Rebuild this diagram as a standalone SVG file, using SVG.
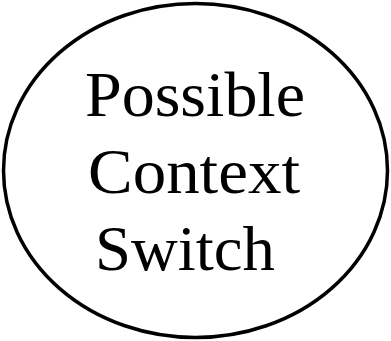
<svg xmlns="http://www.w3.org/2000/svg" width="391" height="341" viewBox="0 0 391 341">
<style>
.t{font-family:"Liberation Serif","DejaVu Serif",serif;font-size:63px;fill:#000}
</style>
<rect width="391" height="341" fill="#fff"/>
<g id="node1">
<ellipse cx="195.5" cy="170.5" rx="192" ry="167" fill="#fff" stroke="#000" stroke-width="3.5"/>
<text class="t" x="85" y="116" textLength="220" lengthAdjust="spacingAndGlyphs">Possible</text>
<text class="t" x="88" y="193" textLength="212" lengthAdjust="spacingAndGlyphs">Context</text>
<text class="t" x="95" y="270" textLength="180" lengthAdjust="spacingAndGlyphs">Switch</text>
</g>
</svg>
